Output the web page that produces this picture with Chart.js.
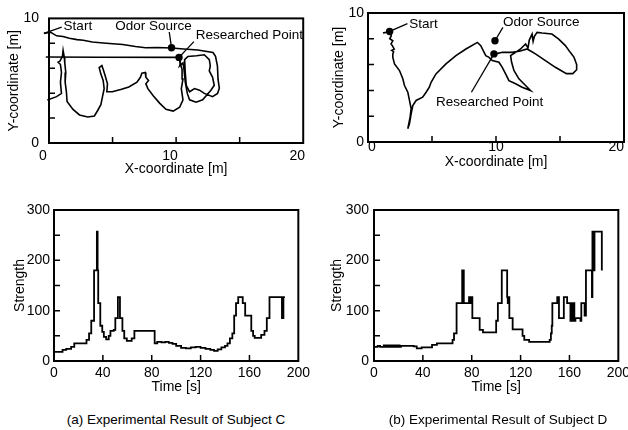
<!DOCTYPE html>
<html>
<head>
<meta charset="utf-8">
<script src="https://cdn.jsdelivr.net/npm/chart.js@4.4.1/dist/chart.umd.min.js"></script>
<style>
    html, body { margin: 0; padding: 0; background: #fff; overflow: hidden; }
    body { position: relative; width: 628px; height: 430px; font-family: "Liberation Sans", Arial, sans-serif; }
    canvas { position: absolute; display: block; }
    .caption { position: absolute; top: 411px; width: 314px; text-align: center; font-size: 13.5px; line-height: 18px; color: #000; white-space: nowrap; }
</style>
</head>
<body>
<canvas id="trackC" width="316" height="180" style="left:0;top:0"></canvas>
<canvas id="trackD" width="314" height="171" style="left:314px;top:0"></canvas>
<canvas id="strengthC" width="314" height="201" style="left:0;top:195px"></canvas>
<canvas id="strengthD" width="320" height="201" style="left:314px;top:195px"></canvas>
<div class="caption" style="left:19px">(a) Experimental Result of Subject C</div>
<div class="caption" style="left:341px">(b) Experimental Result of Subject D</div>

<script>
// --- Daten: Trajektorien [x m, y m] ---
// Subject C
const cRoute = [[-0.4,8.8],[0.1,8.9],[0.6,8.6],[1.1,8.55],[1.6,8.4],[2.2,8.3],[2.7,8.25],[3.4,8.1],[4.5,8.0],[5.8,7.9],[6.8,7.75],[7.6,7.65],[8.5,7.66],[9.64,7.62],[10.6,7.55],[11.7,7.47],[12.9,7.26],[13.1,6.95],[13.25,6.2],[13.3,5.1],[13.4,4.4],[13.26,3.98],[12.87,3.72],[12.22,3.98],[11.84,4.24],[11.45,4.37],[11.06,4.11],[10.8,4.63],[10.72,5.66],[10.67,6.69],[10.93,6.95],[11.6,7.0],[12.22,7.08],[12.61,6.69],[12.69,6.18],[12.61,5.79],[12.87,5.27],[13.0,4.63],[12.74,4.24],[12.09,3.47],[11.57,3.28],[11.06,3.47],[10.88,3.98],[10.72,4.88],[10.62,5.91],[10.54,6.43],[10.41,6.3],[10.28,6.18],[10.35,6.4],[10.23,6.87]];
const cJump = [[10.23,6.87],[4.0,6.88],[-0.25,6.9]];
const cWander = [[-0.13,3.46],[0.6,3.72],[0.98,3.98],[0.9,4.88],[0.98,5.66],[0.9,6.3],[0.72,6.49],[0.85,6.56],[1.06,6.95],[1.11,7.42],[1.2,6.9],[1.24,6.43],[1.32,5.66],[1.27,4.88],[1.37,4.11],[1.42,3.33],[1.89,2.69],[2.4,2.25],[3.05,2.09],[3.57,2.17],[3.83,2.61],[4.08,3.08],[4.21,3.72],[4.34,4.36],[4.26,5.02],[4.08,5.53],[3.95,6.05],[4.16,6.22],[4.26,5.91],[4.42,5.4],[4.6,4.75],[4.55,4.11],[4.98,4.11],[5.64,4.29],[6.28,4.5],[6.92,4.88],[7.19,5.27],[7.31,5.61],[7.57,5.66],[7.62,5.27],[7.83,5.01],[7.62,4.75],[7.78,4.36],[8.2,3.8],[8.7,3.2],[9.2,2.7],[9.77,2.56],[10.28,2.87],[10.54,3.46],[10.41,4.36],[10.54,5.14],[10.47,5.91],[10.34,6.3],[10.23,6.87]];
const cMarks = [[-0.4,8.8],[9.64,7.65],[10.23,6.87]];   // Start, Odor Source, Researched Point

// Subject D
const dRoute = [[1.17,8.45],[1.4,8.5],[1.69,8.57],[1.82,8.24],[1.7,8.0],[1.94,7.85],[1.8,7.6],[1.9,7.47],[2.05,7.2],[1.85,7.1],[2.0,7.0],[1.94,6.83],[1.94,6.56],[2.07,6.05],[2.46,5.54],[2.72,4.9],[2.85,4.38],[3.11,3.86],[3.24,3.22],[3.37,2.58],[3.29,1.93],[3.11,1.03],[3.24,1.42],[3.37,2.19],[3.5,2.83],[3.76,3.22],[4.27,3.47],[4.54,3.86],[4.79,4.25],[4.93,4.63],[5.31,5.28],[6.09,6.05],[6.87,6.69],[7.65,7.21],[8.55,7.72],[8.81,7.47],[9.07,6.95],[9.2,6.69],[9.46,6.56],[9.71,6.31],[10.23,6.18],[10.49,5.79],[10.75,5.28],[11.01,4.76],[11.53,4.51],[12.04,4.25],[12.7,3.99],[12.31,4.38],[11.79,4.9],[11.4,5.54],[11.22,6.18],[11.14,6.69],[11.53,6.95],[11.92,7.21],[12.31,7.6],[12.5,7.3],[12.6,7.9],[12.82,8.37],[12.9,7.8],[13.0,8.2],[13.21,8.5],[13.6,8.45],[14.37,8.37],[14.9,7.98],[15.42,7.47],[15.8,6.95],[16.1,6.56],[16.3,6.0],[16.3,5.6],[16.0,5.3],[15.5,5.3],[14.64,5.79],[13.86,6.31],[13.08,6.83],[12.43,7.21],[11.9,7.05],[11.27,6.95],[10.49,6.95],[9.98,6.83]];
const dMarks = [[1.69,8.57],[9.92,7.85],[9.84,6.83]];

// --- Daten: Geruchsstärke (Zeit [s] -> Strength, stufenförmig) ---
const timeC = [0,7,10,14,16.6,26.6,28.7,30.5,32.8,35.1,35.7,36.2,37.9,39.5,40.8,42.7,44.8,46.2,48.9,50.2,52.3,54,56,57.5,59.6,63.6,65.8,82.4,84.5,88,91,94,97,100,104,108,112,116,120,124,128,131,134,137,140,142,144,146,147.5,149,150.8,154.5,156.5,161.5,163,164.3,169.6,172.3,174.2,176.4,186.6,187,187.4,187.8,189];
const strengthC = [18,22,24,28,35,42,55,80,180,257,180,115,70,58,48,43,50,60,62,85,127,85,60,45,40,45,60,35,38,37,38,36,34,30,26,25,27,28,26,24,22,20,23,27,30,35,45,55,90,115,127,115,90,60,50,46,52,60,85,127,85,127,85,127,127];
const timeD = [0,3,5,8,9,10,11,12,13,14,15,16,17,18,19,20,21,22,32.5,35,39,47.5,51.5,64.3,65.5,67.6,72.2,72.6,73,73.5,77.8,78.5,79.2,80.5,86.5,89.2,100,101.4,104.6,109,109.5,110,110.8,113.5,121.6,123,127,143.8,144.8,145.5,146,150,151.4,155.4,158.1,160.8,161.5,162,162.5,163,163.5,164,164.9,169,169.7,172.4,173.5,178.4,178.8,179.2,179.6,180,180.5,181,186.5];
const strengthD = [28,30,28,31,28,31,28,31,28,31,28,31,28,31,28,31,28,30,29,25,27,32,35,42,55,115,180,115,180,115,127,115,127,85,62,57,80,115,180,127,115,127,85,63,50,42,38,42,55,70,115,127,85,127,115,80,115,80,115,80,115,80,85,80,115,90,180,127,257,180,257,180,257,257,180];

// --- Beschriftungen (Punkt, Ende der Hinweislinie, Textposition) ---
const notesC = [
    { text: 'Start', dot: [-0.4, 8.8], tip: [1.0, 9.3], label: [1.15, 9.38], align: 'left' },
    { text: 'Odor Source', dot: [9.64, 7.65], tip: [9.46, 8.91], label: [8.22, 9.38], align: 'center' },
    { text: 'Researched Point', dot: [10.23, 6.87], tip: [11.4, 8.14], label: [11.55, 8.68], align: 'left' }
];
const notesD = [
    { text: 'Start', dot: [1.69, 8.57], tip: [3.08, 9.17], label: [3.22, 9.09], align: 'left' },
    { text: 'Odor Source', dot: [9.92, 7.85], tip: [10.54, 8.88], label: [13.53, 9.27], align: 'center' },
    { text: 'Researched Point', dot: [9.84, 6.83], tip: [8.08, 3.86], label: [9.5, 3.09], align: 'center' }
];

const FONT = '"Liberation Sans", Arial, sans-serif';
Chart.defaults.font.family = FONT;
Chart.defaults.font.size = 14;
Chart.defaults.color = '#000';

// Rahmen + nach innen zeigende Teilstriche
const framePlugin = {
    id: 'frame',
    afterDatasetsDraw(chart) {
        const { ctx, chartArea: a, scales: { x, y } } = chart;
        ctx.save();
        ctx.strokeStyle = '#000';
        ctx.lineWidth = 2;
        ctx.strokeRect(a.left, a.top, a.right - a.left, a.bottom - a.top);
        ctx.lineWidth = 1.5;
        ctx.beginPath();
        x.ticks.forEach(t => {
            if (t.value > x.min && t.value < x.max) {
                const px = x.getPixelForValue(t.value);
                ctx.moveTo(px, a.bottom);
                ctx.lineTo(px, a.bottom - 6);
            }
        });
        y.ticks.forEach(t => {
            if (t.value > y.min && t.value < y.max) {
                const py = y.getPixelForValue(t.value);
                ctx.moveTo(a.left, py);
                ctx.lineTo(a.left + 6, py);
            }
        });
        ctx.stroke();
        ctx.restore();
    }
};

function makeNotes(notes) {
    return {
        id: 'notes',
        afterDatasetsDraw(chart) {
            const { ctx, scales: { x, y } } = chart;
            ctx.save();
            ctx.strokeStyle = '#000';
            ctx.fillStyle = '#000';
            ctx.lineWidth = 1.3;
            ctx.font = '13.5px ' + FONT;
            ctx.textBaseline = 'middle';
            notes.forEach(n => {
                ctx.beginPath();
                ctx.moveTo(x.getPixelForValue(n.dot[0]), y.getPixelForValue(n.dot[1]));
                ctx.lineTo(x.getPixelForValue(n.tip[0]), y.getPixelForValue(n.tip[1]));
                ctx.stroke();
                ctx.textAlign = n.align;
                ctx.fillText(n.text, x.getPixelForValue(n.label[0]), y.getPixelForValue(n.label[1]));
            });
            ctx.restore();
        }
    };
}

function axisX(g, title, min, max, step, labelEvery) {
    return {
        type: 'linear', min: min, max: max,
        grid: { display: false, drawTicks: false },
        border: { display: false },
        ticks: {
            stepSize: step, autoSkip: false, maxRotation: 0,
            padding: g.xTickPad, align: g.xAlign || 'center', labelOffset: g.xLabelOffset || 0,
            callback: v => (v % labelEvery === 0 ? v : '')
        },
        title: { display: true, text: title, padding: { top: 0, bottom: g.xTitlePad } },
        afterFit: s => { s.height = g.xHeight; }
    };
}

function axisY(g, title, min, max, step, labelEvery) {
    return {
        type: 'linear', min: min, max: max,
        grid: { display: false, drawTicks: false },
        border: { display: false },
        ticks: {
            stepSize: step, autoSkip: false, padding: g.yTickPad,
            callback: v => (v % labelEvery === 0 ? v : '')
        },
        title: { display: true, text: title, padding: { top: g.yTitlePad, bottom: 0 } },
        afterFit: s => { s.width = g.yWidth; }
    };
}

function baseOptions(g) {
    return {
        responsive: false,
        animation: false,
        events: [],
        layout: { padding: g.pad },
        plugins: { legend: { display: false }, tooltip: { enabled: false } }
    };
}

function trackChart(id, paths, marks, notes, g) {
    const datasets = paths.map(p => ({
        data: p.map(([x, y]) => ({ x, y })),
        showLine: true, borderColor: '#000', borderWidth: 1.6,
        pointRadius: 0, tension: 0, clip: false
    }));
    datasets.push({
        data: marks.map(([x, y]) => ({ x, y })),
        showLine: false, pointRadius: 3.7, pointBackgroundColor: '#000',
        pointBorderWidth: 0, clip: false
    });
    const options = baseOptions(g);
    options.scales = {
        x: axisX(g, 'X-coordinate [m]', 0, 20, 5, 10),
        y: axisY(g, 'Y-coordinate [m]', 0, 10, 2, 10)
    };
    return new Chart(document.getElementById(id), {
        type: 'scatter',
        data: { datasets },
        options,
        plugins: [framePlugin, makeNotes(notes)]
    });
}

function strengthChart(id, times, values, g) {
    const options = baseOptions(g);
    options.scales = {
        x: axisX(g, 'Time [s]', 0, 200, 40, 40),
        y: axisY(g, 'Strength', 0, 300, 50, 100)
    };
    return new Chart(document.getElementById(id), {
        type: 'line',
        data: {
            datasets: [{
                data: times.map((t, i) => ({ x: t, y: values[i] })),
                stepped: true, borderColor: '#000', borderWidth: 1.8,
                pointRadius: 0, fill: false, clip: false
            }]
        },
        options,
        plugins: [framePlugin]
    });
}

// --- Initialisierung ---
trackChart('trackC', [cRoute, cJump, cWander], cMarks, notesC,
    { yWidth: 49, xHeight: 37, pad: { top: 13, right: 9, left: 0, bottom: 0 },
      xTickPad: 5, xTitlePad: 2, yTickPad: 10, yTitlePad: 6, xLabelOffset: -6 });
trackChart('trackD', [dRoute], dMarks, notesD,
    { yWidth: 54, xHeight: 29, pad: { top: 13, right: 2, left: 0, bottom: 0 },
      xTickPad: -3, xTitlePad: 0, yTickPad: 4, yTitlePad: 17, xAlign: 'inner' });
strengthChart('strengthC', timeC, strengthC,
    { yWidth: 54, xHeight: 35, pad: { top: 15, right: 12, left: 0, bottom: 0 },
      xTickPad: 4, xTitlePad: 0, yTickPad: 4, yTitlePad: 12 });
strengthChart('strengthD', timeD, strengthD,
    { yWidth: 60, xHeight: 35, pad: { top: 15, right: 13, left: 0, bottom: 0 },
      xTickPad: 4, xTitlePad: 0, yTickPad: 5, yTitlePad: 15 });
</script>
</body>
</html>
